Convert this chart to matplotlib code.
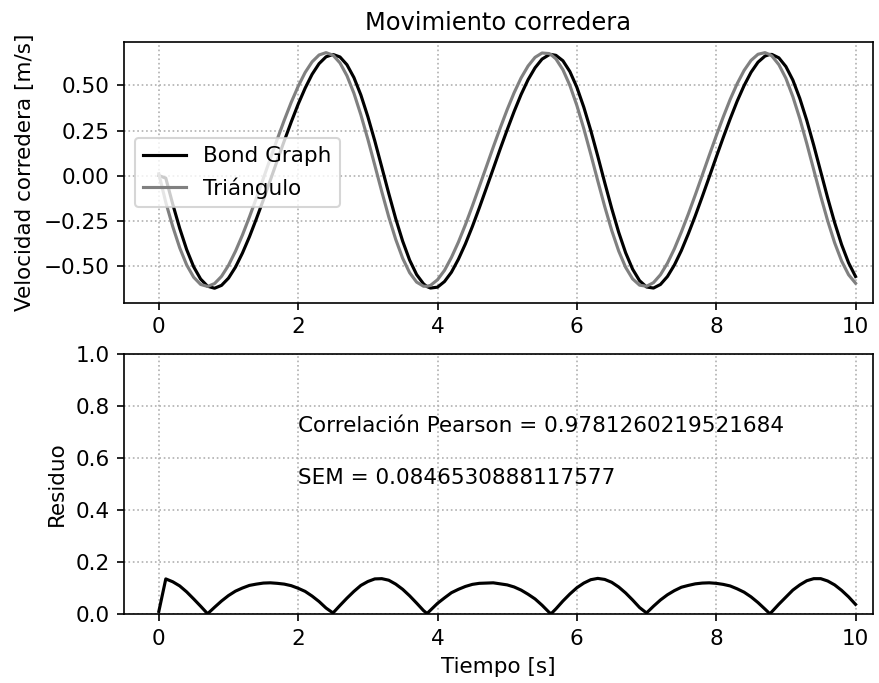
import numpy as np
import matplotlib
matplotlib.use("Agg")
import matplotlib.pyplot as plt

# Time samples [s]
tiempo = [
    0.0, 0.1, 0.2, 0.3, 0.4, 0.5, 0.6, 0.7, 0.8, 0.9,
    1.0, 1.1, 1.2, 1.3, 1.4, 1.5, 1.6, 1.7, 1.8, 1.9,
    2.0, 2.1, 2.2, 2.3, 2.4, 2.5, 2.6, 2.7, 2.8, 2.9,
    3.0, 3.1, 3.2, 3.3, 3.4, 3.5, 3.6, 3.7, 3.8, 3.85, 3.9,
    4.0, 4.1, 4.2, 4.3, 4.4, 4.5, 4.6, 4.7, 4.8, 4.9,
    5.0, 5.1, 5.2, 5.3, 5.4, 5.5, 5.6, 5.63, 5.7, 5.8, 5.9,
    6.0, 6.1, 6.2, 6.3, 6.4, 6.5, 6.6, 6.7, 6.8, 6.9,
    7.0, 7.1, 7.2, 7.3, 7.4, 7.5, 7.6, 7.7, 7.8, 7.9,
    8.0, 8.1, 8.2, 8.3, 8.4, 8.5, 8.6, 8.7, 8.77, 8.8, 8.9,
    9.0, 9.1, 9.2, 9.3, 9.4, 9.5, 9.6, 9.7, 9.8, 9.9,
    10.0,
]

# Slider velocity from the bond graph model [m/s]
bond_graph = [
    0.000, -0.014, -0.159, -0.293, -0.411, -0.506, -0.574, -0.614, -0.625, -0.609,
    -0.569, -0.508, -0.430, -0.340, -0.240, -0.135, -0.026, 0.084, 0.192, 0.297,
    0.396, 0.485, 0.562, 0.621, 0.659, 0.672, 0.658, 0.615, 0.544, 0.447,
    0.327, 0.192, 0.047, -0.099, -0.239, -0.364, -0.469, -0.549, -0.601, -0.616, -0.624,
    -0.619, -0.588, -0.536, -0.464, -0.379, -0.283, -0.179, -0.071, 0.038, 0.148,
    0.254, 0.356, 0.450, 0.532, 0.598, 0.646, 0.670, 0.672, 0.667, 0.637, 0.577,
    0.490, 0.379, 0.250, 0.108, -0.039, -0.182, -0.314, -0.428, -0.519, -0.583,
    -0.618, -0.624, -0.604, -0.560, -0.496, -0.416, -0.323, -0.223, -0.117, -0.008,
    0.102, 0.210, 0.314, 0.412, 0.499, 0.573, 0.629, 0.663, 0.672, 0.672, 0.653,
    0.605, 0.530, 0.428, 0.306, 0.168, 0.022, -0.124, -0.261, -0.383, -0.484,
    -0.560,
]

# Slider velocity from the vector triangle solution [m/s]
triangulo = [
    0.010, -0.149, -0.283, -0.401, -0.496, -0.564, -0.604, -0.615, -0.599, -0.559,
    -0.498, -0.420, -0.330, -0.230, -0.125, -0.016, 0.094, 0.202, 0.307, 0.406,
    0.495, 0.572, 0.631, 0.669, 0.682, 0.668, 0.625, 0.554, 0.457, 0.337,
    0.202, 0.057, -0.089, -0.229, -0.354, -0.459, -0.539, -0.591, -0.614, -0.614, -0.609,
    -0.578, -0.526, -0.454, -0.369, -0.273, -0.169, -0.061, 0.048, 0.158, 0.264,
    0.366, 0.460, 0.542, 0.608, 0.656, 0.680, 0.677, 0.671, 0.647, 0.587, 0.500,
    0.389, 0.260, 0.118, -0.029, -0.172, -0.304, -0.418, -0.509, -0.573, -0.608,
    -0.614, -0.594, -0.550, -0.486, -0.406, -0.313, -0.213, -0.107, 0.002, 0.112,
    0.220, 0.324, 0.422, 0.509, 0.583, 0.639, 0.673, 0.682, 0.671, 0.663, 0.615,
    0.540, 0.438, 0.316, 0.178, 0.032, -0.114, -0.251, -0.373, -0.474, -0.550,
    -0.597,
]

texto_pearson = "Correlación Pearson = 0.9781260219521684"
texto_sem = "SEM = 0.0846530888117577"

t = np.array(tiempo)
v_bg = np.array(bond_graph)
v_tri = np.array(triangulo)
residuo = np.abs(v_bg - v_tri)

plt.rcParams["font.family"] = ["DejaVu Sans"]
plt.rcParams["font.size"] = 10.3

fig = plt.figure(figsize=(880 / 150, 683 / 150), dpi=150)
ax1 = fig.add_axes([0.1409, 0.5566, 0.8511, 0.3819])
ax2 = fig.add_axes([0.1409, 0.1010, 0.8511, 0.3807])

ax1.plot(t, v_bg, color="black", linewidth=1.5, label="Bond Graph")
ax1.plot(t, v_tri, color="gray", linewidth=1.5, label="Triángulo")
ax1.set_title("Movimiento corredera", fontsize=11.6)
ax1.set_ylabel("Velocidad corredera [m/s]")
ax1.set_xlim(-0.5, 10.25)
ax1.set_ylim(-0.706, 0.741)
ax1.set_yticks([-0.5, -0.25, 0.0, 0.25, 0.5])
ax1.grid(True, linestyle=":")
ax1.legend(loc="center left")

ax2.plot(t, residuo, color="black", linewidth=1.5)
ax2.set_xlabel("Tiempo [s]")
ax2.set_ylabel("Residuo")
ax2.set_xlim(-0.5, 10.25)
ax2.set_ylim(0.0, 1.0)
ax2.grid(True, linestyle=":")
ax2.text(2, 0.7, texto_pearson)
ax2.text(2, 0.5, texto_sem)

fig.savefig("out.png", dpi=150)
